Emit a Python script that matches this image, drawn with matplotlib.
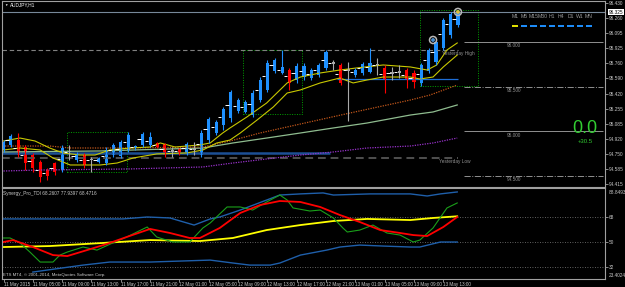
import numpy as np
import matplotlib.pyplot as plt
from matplotlib.patches import Rectangle
from matplotlib.transforms import blended_transform_factory

plt.rcParams['font.family'] = ['Liberation Sans', 'DejaVu Sans']

# AUDJPY H1, one bar per hour from 11 May 2015 01:00 to 13 May 15:00
opens = [94.794, 94.850, 94.905, 94.827, 94.738, 94.660, 94.571, 94.649, 94.571, 94.772,
         94.683, 94.738, 94.683, 94.660, 94.649, 94.738, 94.727, 94.794, 94.816, 94.850,
         94.850, 94.872, 94.861, 94.783, 94.805, 94.761, 94.805, 94.738, 94.905, 94.983,
         95.072, 95.150, 95.228, 95.217, 95.184, 95.350, 95.462, 95.673, 95.651, 95.684,
         95.573, 95.606, 95.595, 95.629, 95.707, 95.762, 95.740, 95.684, 95.629, 95.651,
         95.662, 95.740, 95.707, 95.651, 95.662, 95.684, 95.651, 95.540, 95.673, 95.773,
         95.929, 96.074, 96.185]
highs = [94.905, 94.972, 94.983, 94.850, 94.761, 94.683, 94.594, 94.660, 94.850, 94.850,
         94.772, 94.761, 94.716, 94.716, 94.827, 94.872, 94.905, 94.994, 94.850, 94.994,
         94.994, 94.883, 94.872, 94.827, 94.816, 94.883, 94.883, 95.016, 95.161, 95.128,
         95.272, 95.462, 95.373, 95.350, 95.462, 95.606, 95.796, 95.818, 95.907, 95.707,
         95.762, 95.762, 95.707, 95.762, 95.907, 95.796, 95.762, 95.773, 95.707, 95.773,
         95.929, 95.818, 95.740, 95.718, 95.740, 95.707, 95.684, 95.762, 95.929, 96.018,
         96.263, 96.330, 96.352]
lows = [94.772, 94.827, 94.716, 94.571, 94.549, 94.438, 94.460, 94.516, 94.549, 94.683,
        94.660, 94.594, 94.549, 94.649, 94.627, 94.716, 94.705, 94.772, 94.794, 94.827,
        94.827, 94.816, 94.716, 94.716, 94.738, 94.738, 94.738, 94.716, 94.872, 94.961,
        95.016, 95.106, 95.206, 95.206, 95.161, 95.328, 95.439, 95.651, 95.640, 95.462,
        95.540, 95.573, 95.573, 95.606, 95.684, 95.684, 95.517, 95.117, 95.606, 95.629,
        95.651, 95.629, 95.428, 95.573, 95.595, 95.484, 95.484, 95.506, 95.651, 95.740,
        95.907, 96.040, 96.163]
closes = [94.883, 94.950, 94.738, 94.649, 94.594, 94.490, 94.505, 94.549, 94.816, 94.772,
          94.761, 94.627, 94.683, 94.705, 94.794, 94.850, 94.883, 94.961, 94.839, 94.972,
          94.939, 94.827, 94.738, 94.783, 94.750, 94.861, 94.805, 94.983, 95.139, 95.106,
          95.250, 95.439, 95.350, 95.328, 95.428, 95.573, 95.762, 95.796, 95.718, 95.540,
          95.729, 95.729, 95.684, 95.740, 95.885, 95.762, 95.540, 95.684, 95.684, 95.751,
          95.762, 95.740, 95.573, 95.651, 95.662, 95.573, 95.550, 95.740, 95.907, 95.996,
          96.241, 96.308, 96.325]

# moving averages on the price chart (bar index, price)
ma1_x = [0, 2.25, 4.3, 6.3, 8.1, 10.4, 12.5, 14.5, 17.3, 20.0, 21.4, 23.4, 26.8, 28.2, 29.9,
         30.9, 33.2, 35.9, 38.7, 40.5, 43.2, 45.9, 48.2, 51.8, 55.5, 57.8, 59.1, 60.5, 61.9]
ma1_y = [94.894, 94.927, 94.894, 94.816, 94.761, 94.738, 94.738, 94.794, 94.816, 94.827,
         94.872, 94.827, 94.850, 94.872, 94.983, 95.039, 95.161, 95.317, 95.540, 95.606,
         95.651, 95.684, 95.707, 95.740, 95.718, 95.684, 95.740, 95.907, 95.985]
ma2_x = [0, 2.25, 5.0, 6.75, 9.1, 13.2, 15.5, 17.7, 20.9, 25.0, 27.2, 29.1, 30.9, 32.3, 34.6,
         36.8, 38.7, 40.5, 43.2, 45.9, 47.7, 49.6, 51.8, 55.5, 56.8, 58.6, 60.0, 61.9]
ma2_y = [94.794, 94.816, 94.794, 94.705, 94.627, 94.627, 94.649, 94.705, 94.750, 94.761,
         94.794, 94.872, 94.905, 94.983, 95.128, 95.272, 95.428, 95.462, 95.540, 95.595,
         95.540, 95.573, 95.606, 95.606, 95.584, 95.606, 95.718, 95.851]
ma_orange_x = [0.2, 6.3, 9.1, 16.6, 27.2, 30.9, 35.0, 40.5, 47.3, 55.5, 58.2, 61.9]
ma_orange_y = [94.838, 94.838, 94.816, 94.816, 94.827, 94.894, 94.983, 95.083, 95.206,
               95.350, 95.406, 95.517]
ma_green_x = [0, 13.2, 27.2, 31.3, 35.9, 40.5, 45.0, 49.6, 55.5, 58.6, 61.9]
ma_green_y = [94.772, 94.783, 94.816, 94.872, 94.927, 94.983, 95.039, 95.094, 95.183,
              95.217, 95.295]
ma_purple_x = [0, 5.0, 17.3, 27.2, 31.3, 35.9, 40.5, 45.0, 49.6, 55.5, 58.6, 61.9]
ma_purple_y = [94.560, 94.571, 94.583, 94.605, 94.649, 94.694, 94.738, 94.772, 94.816,
               94.838, 94.872, 94.927]

# levels
bid_price = 96.325
yesterday_high = 95.907
yesterday_low = 94.705
pivot_levels = [96.000, 95.500, 95.000, 94.500]
pivot_styles = ['-', '-.', '-', '-.']
blue_levels = [(94.761, -0.2, 44.5), (95.584, 45.5, 62.0)]

# session boxes (start bar, end bar, low, high)
session_start = [8.7, 32.7, 56.8]
session_end = [16.8, 40.7, 64.7]
session_low = [94.549, 95.195, 95.506]
session_high = [94.994, 95.907, 96.352]

signal_x = [58.6, 62.0]
signal_y = [96.018, 96.330]

price_ticks = [96.430, 96.260, 96.095, 95.925, 95.760, 95.590, 95.420,
               95.255, 95.085, 94.920, 94.750, 94.585, 94.415]
time_ticks = list(range(0, 61, 4))
time_labels = ['11 May 2015', '11 May 05:00', '11 May 09:00', '11 May 13:00',
               '11 May 17:00', '11 May 21:00', '12 May 01:00', '12 May 05:00',
               '12 May 09:00', '12 May 13:00', '12 May 17:00', '12 May 21:00',
               '13 May 01:00', '13 May 05:00', '13 May 09:00', '13 May 13:00']

tf_labels = ['M1', 'M5', 'M15', 'M30', 'H1', 'H4', 'D1', 'W1', 'MN']
tf_colors = ['#e6e600'] + ['#1e90ff'] * 8

# TDI indicator (bar index, value)
green_x = [0, 0.9, 2.25, 3.6, 5.0, 6.75, 7.7, 8.7, 10.85, 12.75, 14.9, 16.8, 18.2, 19.6,
           20.9, 23.1, 25.4, 27.2, 28.2, 30.5, 32.3, 34.0, 35.9, 37.7, 38.7, 39.5, 41.8,
           43.2, 45.0, 46.3, 46.9, 48.6, 50.4, 52.3, 54.1, 55.9, 56.8, 58.6, 60.5, 61.9]
green_v = [52.9, 52.9, 49.3, 42.8, 35.6, 35.6, 40.6, 42.8, 46.4, 44.2, 49.3, 53.6, 57.2,
           60.8, 53.6, 50.0, 50.0, 60.1, 63.7, 75.2, 75.2, 73.0, 78.8, 83.8, 80.2, 74.5,
           72.3, 73.0, 67.3, 60.1, 57.2, 58.6, 62.2, 56.5, 55.0, 50.0, 51.4, 60.1, 74.5, 78.1]
red_x = [0, 1.3, 4.0, 6.75, 8.7, 11.4, 14.1, 16.8, 20.0, 22.7, 25.4, 26.8, 29.5, 32.3,
         35.0, 37.7, 40.5, 43.2, 45.9, 48.6, 51.4, 54.1, 55.9, 57.8, 60.0, 61.9]
red_v = [50.0, 51.4, 46.4, 40.6, 39.9, 44.2, 48.6, 53.6, 59.4, 56.5, 52.9, 52.9, 60.1,
         70.9, 76.6, 79.5, 78.8, 75.2, 69.4, 64.4, 58.6, 56.5, 55.0, 54.3, 60.8, 68.0]
yellow_x = [0, 6.3, 13.5, 20.0, 26.8, 31.3, 35.9, 40.5, 45.0, 49.6, 55.5, 58.6, 61.9]
yellow_v = [46.4, 47.1, 49.3, 51.4, 50.7, 52.9, 58.6, 62.2, 65.1, 66.6, 65.8, 67.3, 68.5]
upper_x = [0, 16.3, 19.6, 22.7, 26.0, 28.2, 29.5, 32.3, 35.9, 37.7, 40.5, 43.6, 45.0,
           50.0, 55.5, 57.8, 59.6, 61.9]
upper_v = [66.6, 66.6, 68.0, 67.3, 62.2, 66.6, 68.0, 73.0, 80.2, 83.8, 84.6, 85.3, 83.8,
           84.6, 84.6, 83.1, 84.6, 86.0]
lower_x = [4.0, 10.85, 14.5, 20.0, 28.2, 31.3, 33.6, 36.4, 37.7, 40.5, 44.1, 45.9, 48.6,
           51.8, 55.5, 56.8, 59.6, 61.9]
lower_v = [28.4, 33.4, 35.6, 35.6, 37.0, 34.9, 33.4, 33.4, 34.9, 40.6, 44.2, 46.4, 47.8,
           47.1, 46.4, 46.4, 50.0, 50.0]
tdi_levels = [68, 50, 32]
tdi_top, tdi_bottom = 88.8493, 23.4024

# ---------------------------------------------------------------- layout
W, H = 625, 287
fig = plt.figure(figsize=(W / 100, H / 100), dpi=100, facecolor='black')


def frame(x0, y0, x1, y1):
    return [x0 / W, 1 - y1 / H, (x1 - x0) / W, (y1 - y0) / H]


ax = fig.add_axes(frame(2, 1, 605, 187))
ax2 = fig.add_axes(frame(2, 188, 605, 279))
xlim = (-0.205, 82.06)
txt = '#c8c8c8'
small = 3.4

for a in (ax, ax2):
    a.set_facecolor('black')
    a.set_xlim(*xlim)
    for s in a.spines.values():
        s.set_color('#a0a0a0')
        s.set_linewidth(0.8)
    a.yaxis.tick_right()
    a.tick_params(axis='y', colors='#a0a0a0', labelcolor=txt, labelsize=small,
                  length=2, width=0.6, pad=1)

ax.set_ylim(94.382, 96.452)
ax.set_xticks([])
ax.set_yticks(price_ticks)
ax.set_yticklabels([f'{p:.3f}' for p in price_ticks])

# levels
ax.axhline(bid_price, color='#778899', lw=0.8)
ax.hlines(yesterday_high, xlim[0], 62, color='#808080', lw=0.8, linestyles=(0, (4, 2.5)))
ax.hlines(yesterday_low, xlim[0], 62, color='#505050', lw=1.4, linestyles=(0, (4, 2.5)))
for lvl, ls in zip(pivot_levels, pivot_styles):
    ax.hlines(lvl, 62.8, xlim[1] - 0.3, color='#909090', lw=0.7, linestyles=ls)
    ax.text(68.7, lvl - 0.012, f'{lvl:.3f}', color='#909090', fontsize=small,
            va='top', ha='left')
for lvl, x0, x1 in blue_levels:
    ax.hlines(lvl, x0, x1, color='#1c4f94' if x0 < 0 else '#1e6ed6',
              lw=1.8 if x0 < 0 else 0.9)
ax.text(59.8, yesterday_high - 0.035, 'Yesterday High', color='#909090', fontsize=small,
        va='center', ha='left')
ax.text(59.4, yesterday_low - 0.035, 'Yesterday Low', color='#909090', fontsize=small,
        va='center', ha='left')

# session boxes
for s0, s1, lo, hi in zip(session_start, session_end, session_low, session_high):
    ax.add_patch(Rectangle((s0, lo), s1 - s0, hi - lo, fill=False, edgecolor='#00a000',
                           lw=0.7, ls=(0, (1, 1.5))))

# moving averages
ax.plot(ma_purple_x, ma_purple_y, color='#9932cc', lw=0.9, ls=(0, (1, 1)))
ax.plot(ma_green_x, ma_green_y, color='#8fbc8f', lw=0.9)
ax.plot(ma_orange_x, ma_orange_y, color='#c0561a', lw=0.9, ls=(0, (1, 1)))
ax.plot(ma2_x, ma2_y, color='#c8c800', lw=0.8)
ax.plot(ma1_x, ma1_y, color='#c8c800', lw=0.8)

# candles
bull, bear, doji = '#1e90ff', '#ff0000', '#a9a9a9'
for x, (o, h, l, c) in enumerate(zip(opens, highs, lows, closes)):
    col = bull if c > o else bear if c < o else doji
    ax.vlines(x, l, h, color=col, lw=0.8)
    body = max(abs(c - o), 0.012)
    bottom = min(o, c) if c != o else o - 0.006
    ax.add_patch(Rectangle((x - 0.21, bottom), 0.42, body, color=col, lw=0))
    ax.hlines((o + c) / 2, x - 0.75, x - 0.3, color='white', lw=0.7)

ax.scatter(signal_x, signal_y, s=26, facecolors='none', edgecolors='#b8b8b8', lw=1.1,
           zorder=5)
ax.scatter(signal_x, signal_y, s=3, color=['#4a8fd0', '#e0c040'], zorder=6)

# bid label on the price scale
bt = blended_transform_factory(ax.transAxes, ax.transData)
ax.text(1.006, bid_price, f'{bid_price:.3f}', transform=bt, fontsize=small, color='black',
        va='center', ha='left', bbox=dict(facecolor='white', edgecolor='none', pad=0.4))

# profit readout
ax.text(79.3, 95.028, '0.0', color='#32cd32', fontsize=13, ha='center', va='center')
ax.text(79.4, 94.883, '+30.5', color='#32cd32', fontsize=4.3, ha='center', va='center')

# timeframe trend panel
for k, (lab, col) in enumerate(zip(tf_labels, tf_colors)):
    cx = (515 + 9.25 * k - 2) / 603
    ax.text(cx, 0.914, lab, transform=ax.transAxes, color='#9a9a9a', fontsize=3.7,
            ha='center', va='center')
    ax.plot([cx - 0.005, cx + 0.005], [0.866, 0.866], transform=ax.transAxes,
            color=col, lw=1.4, solid_capstyle='butt')

fig.text(4 / W, 1 - 5 / H, '\u25bc', color='white', fontsize=2.5, va='center')
fig.text(10 / W, 1 - 5 / H, 'AUDJPY,H1', color='white', fontsize=small, va='center')

# ---------------------------------------------------------------- TDI
ax2.set_ylim(tdi_bottom, tdi_top)
ax2.set_yticks(tdi_levels)
ax2.set_yticklabels([str(v) for v in tdi_levels])
for v in tdi_levels:
    ax2.axhline(v, color='#808080', lw=0.6, ls=(0, (1, 2)))
ax2.text(1.006, 1 - 2 / 91, f'{tdi_top}', transform=ax2.transAxes, color=txt,
         fontsize=small, va='top', ha='left')
ax2.text(1.006, 1 / 91, f'{tdi_bottom}', transform=ax2.transAxes, color=txt,
         fontsize=small, va='bottom', ha='left')

ax2.plot(upper_x, upper_v, color='#1f5faa', lw=1.0)
ax2.plot(lower_x, lower_v, color='#1f5faa', lw=1.0)
ax2.plot(yellow_x, yellow_v, color='#ffff00', lw=1.3)
ax2.plot(green_x, green_v, color='#1aa01a', lw=0.8)
ax2.plot(red_x, red_v, color='#ff0000', lw=1.3)

ax2.text(0.002, 1 - 5 / 91, 'Synergy_Pro_TDI 68.2607 77.9397 68.4716',
         transform=ax2.transAxes, color=txt, fontsize=small, va='center', ha='left')
ax2.text(0.002, 4 / 91, 'ETS MT4, \u00a9 2001-2014, MetaQuotes Software Corp.',
         transform=ax2.transAxes, color=txt, fontsize=3.2, va='center', ha='left')

ax2.set_xticks(time_ticks)
ax2.set_xticklabels(time_labels)
ax2.tick_params(axis='x', colors='#a0a0a0', labelcolor=txt, labelsize=3.3,
                length=2, width=0.6, pad=0.5)
for lab in ax2.get_xticklabels():
    lab.set_ha('left')

fig.savefig('out.png', dpi=100, facecolor='black')
